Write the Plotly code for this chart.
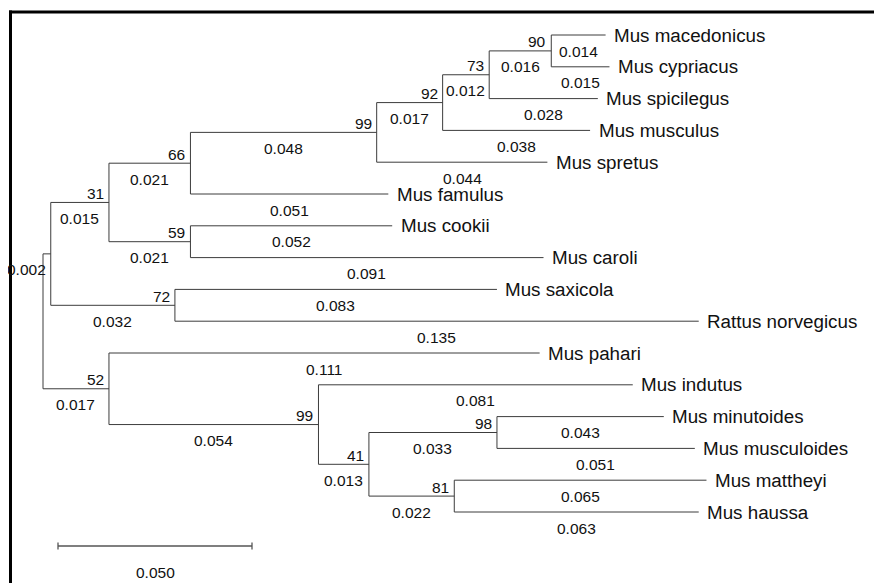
import plotly.graph_objects as go

# ---------------- data ----------------
taxa = ["Mus macedonicus", "Mus cypriacus", "Mus spicilegus", "Mus musculus",
        "Mus spretus", "Mus famulus", "Mus cookii", "Mus caroli", "Mus saxicola",
        "Rattus norvegicus", "Mus pahari", "Mus indutus", "Mus minutoides",
        "Mus musculoides", "Mus mattheyi", "Mus haussa"]
taxon_branch = [0.014, 0.015, 0.028, 0.038, 0.044, 0.051, 0.052, 0.091, 0.083,
                0.135, 0.111, 0.081, 0.043, 0.051, 0.065, 0.063]

node_ids = ["n90", "n73", "n92", "n99a", "n66", "n59", "n31", "n72", "nU",
            "n98", "n81", "n41", "n99b", "n52", "root"]
node_children = [["Mus macedonicus", "Mus cypriacus"],
                 ["n90", "Mus spicilegus"],
                 ["n73", "Mus musculus"],
                 ["n92", "Mus spretus"],
                 ["n99a", "Mus famulus"],
                 ["Mus cookii", "Mus caroli"],
                 ["n66", "n59"],
                 ["Mus saxicola", "Rattus norvegicus"],
                 ["n31", "n72"],
                 ["Mus minutoides", "Mus musculoides"],
                 ["Mus mattheyi", "Mus haussa"],
                 ["n98", "n81"],
                 ["Mus indutus", "n41"],
                 ["Mus pahari", "n99b"],
                 ["nU", "n52"]]
node_branch = [0.016, 0.012, 0.017, 0.048, 0.021, 0.021, 0.015, 0.032, 0.002,
               0.033, 0.022, 0.013, 0.054, 0.017, None]
node_support = [90, 73, 92, 99, 66, 59, 31, 72, None, 98, 81, 41, 99, 52, None]

scale_value = 0.050

# ---------------- geometry ----------------
PAGE_W, PAGE_H = 882, 583
OFF = 8                      # default body margin of the html page
W, H = PAGE_W - OFF, PAGE_H - OFF
S = 3880.0                   # px per unit of branch length
X0 = 43.0                    # root pixel x (page coords)
Y0, DY = 35.0, 31.8          # leaf pixel y start / spacing (page coords)

children = dict(zip(node_ids, node_children))
blen = dict(zip(taxa, taxon_branch))
blen.update({n: b for n, b in zip(node_ids, node_branch)})
support = dict(zip(node_ids, node_support))
parent = {}
for n, ch in children.items():
    for c in ch:
        parent[c] = n

ypos = {t: i for i, t in enumerate(taxa)}
xpos = {"root": 0.0}


def set_x(n):
    for c in children.get(n, []):
        xpos[c] = xpos[n] + blen[c]
        set_x(c)


def set_y(n):
    if n in ypos:
        return ypos[n]
    ys = [set_y(c) for c in children[n]]
    ypos[n] = sum(ys) / len(ys)
    return ypos[n]


set_x("root")
set_y("root")

xs, ys = [], []
for n in list(taxa) + node_ids:
    if n in parent:
        p = parent[n]
        xs += [xpos[p], xpos[n], None]
        ys += [ypos[n], ypos[n], None]
for n in node_ids:
    cy = [ypos[c] for c in children[n]]
    xs += [xpos[n], xpos[n], None]
    ys += [min(cy), max(cy), None]

fig = go.Figure()
fig.add_trace(go.Scatter(x=xs, y=ys, mode="lines",
                         line=dict(color="#3c3c3c", width=1),
                         hoverinfo="skip", showlegend=False))

FONT = "Liberation Sans, Arial, sans-serif"
ann = []
for t in taxa:
    ann.append(dict(x=xpos[t], y=ypos[t], text=t, xanchor="left", yanchor="middle",
                    xshift=6.5, showarrow=False,
                    font=dict(family=FONT, size=18.8, color="#111111")))
for n in list(taxa) + node_ids:
    if n not in parent:
        continue
    p = parent[n]
    a = dict(x=(xpos[p] + xpos[n]) / 2, y=ypos[n], text=f"{blen[n]:.3f}",
             xanchor="center", yanchor="middle", yshift=-16, showarrow=False,
             font=dict(family=FONT, size=15.5, color="#111111"))
    if n == "nU":
        a.update(x=xpos[n], xanchor="right", xshift=-3)
    ann.append(a)
for n in node_ids:
    if support[n] is None:
        continue
    ann.append(dict(x=xpos[n], y=ypos[n], text=str(support[n]), xanchor="right",
                    yanchor="middle", xshift=-3, yshift=9, showarrow=False,
                    font=dict(family=FONT, size=15.5, color="#111111")))

# scale bar
sb_x0 = (58 - X0) / S
sb_y = (546 - Y0) / DY
tick = 3.5 / DY
fig.add_trace(go.Scatter(
    x=[sb_x0, sb_x0 + scale_value, None, sb_x0, sb_x0, None,
       sb_x0 + scale_value, sb_x0 + scale_value],
    y=[sb_y, sb_y, None, sb_y - tick, sb_y + tick, None, sb_y - tick, sb_y + tick],
    mode="lines", line=dict(color="#555555", width=1.3),
    hoverinfo="skip", showlegend=False))
ann.append(dict(x=sb_x0 + scale_value / 2, y=(572 - Y0) / DY, text=f"{scale_value:.3f}",
                xanchor="center", yanchor="middle", showarrow=False,
                font=dict(family=FONT, size=15.5, color="#111111")))


def px(xp):
    return (xp - OFF) / W


def py(yp):
    return 1 - (yp - OFF) / H


shapes = [
    dict(type="line", xref="paper", yref="paper", x0=px(10.5), x1=px(10.5),
         y0=py(10.5), y1=0, line=dict(color="black", width=3)),
    dict(type="line", xref="paper", yref="paper", x0=px(9), x1=1,
         y0=py(12), y1=py(12), line=dict(color="black", width=3)),
]

fig.update_layout(
    width=W, height=H, margin=dict(l=0, r=0, t=0, b=0),
    paper_bgcolor="white", plot_bgcolor="white",
    xaxis=dict(range=[(OFF - X0) / S, (PAGE_W - X0) / S], visible=False, fixedrange=True),
    yaxis=dict(range=[(PAGE_H - Y0) / DY, (OFF - Y0) / DY], visible=False, fixedrange=True),
    annotations=ann, shapes=shapes,
)

fig.write_html("out.html")
